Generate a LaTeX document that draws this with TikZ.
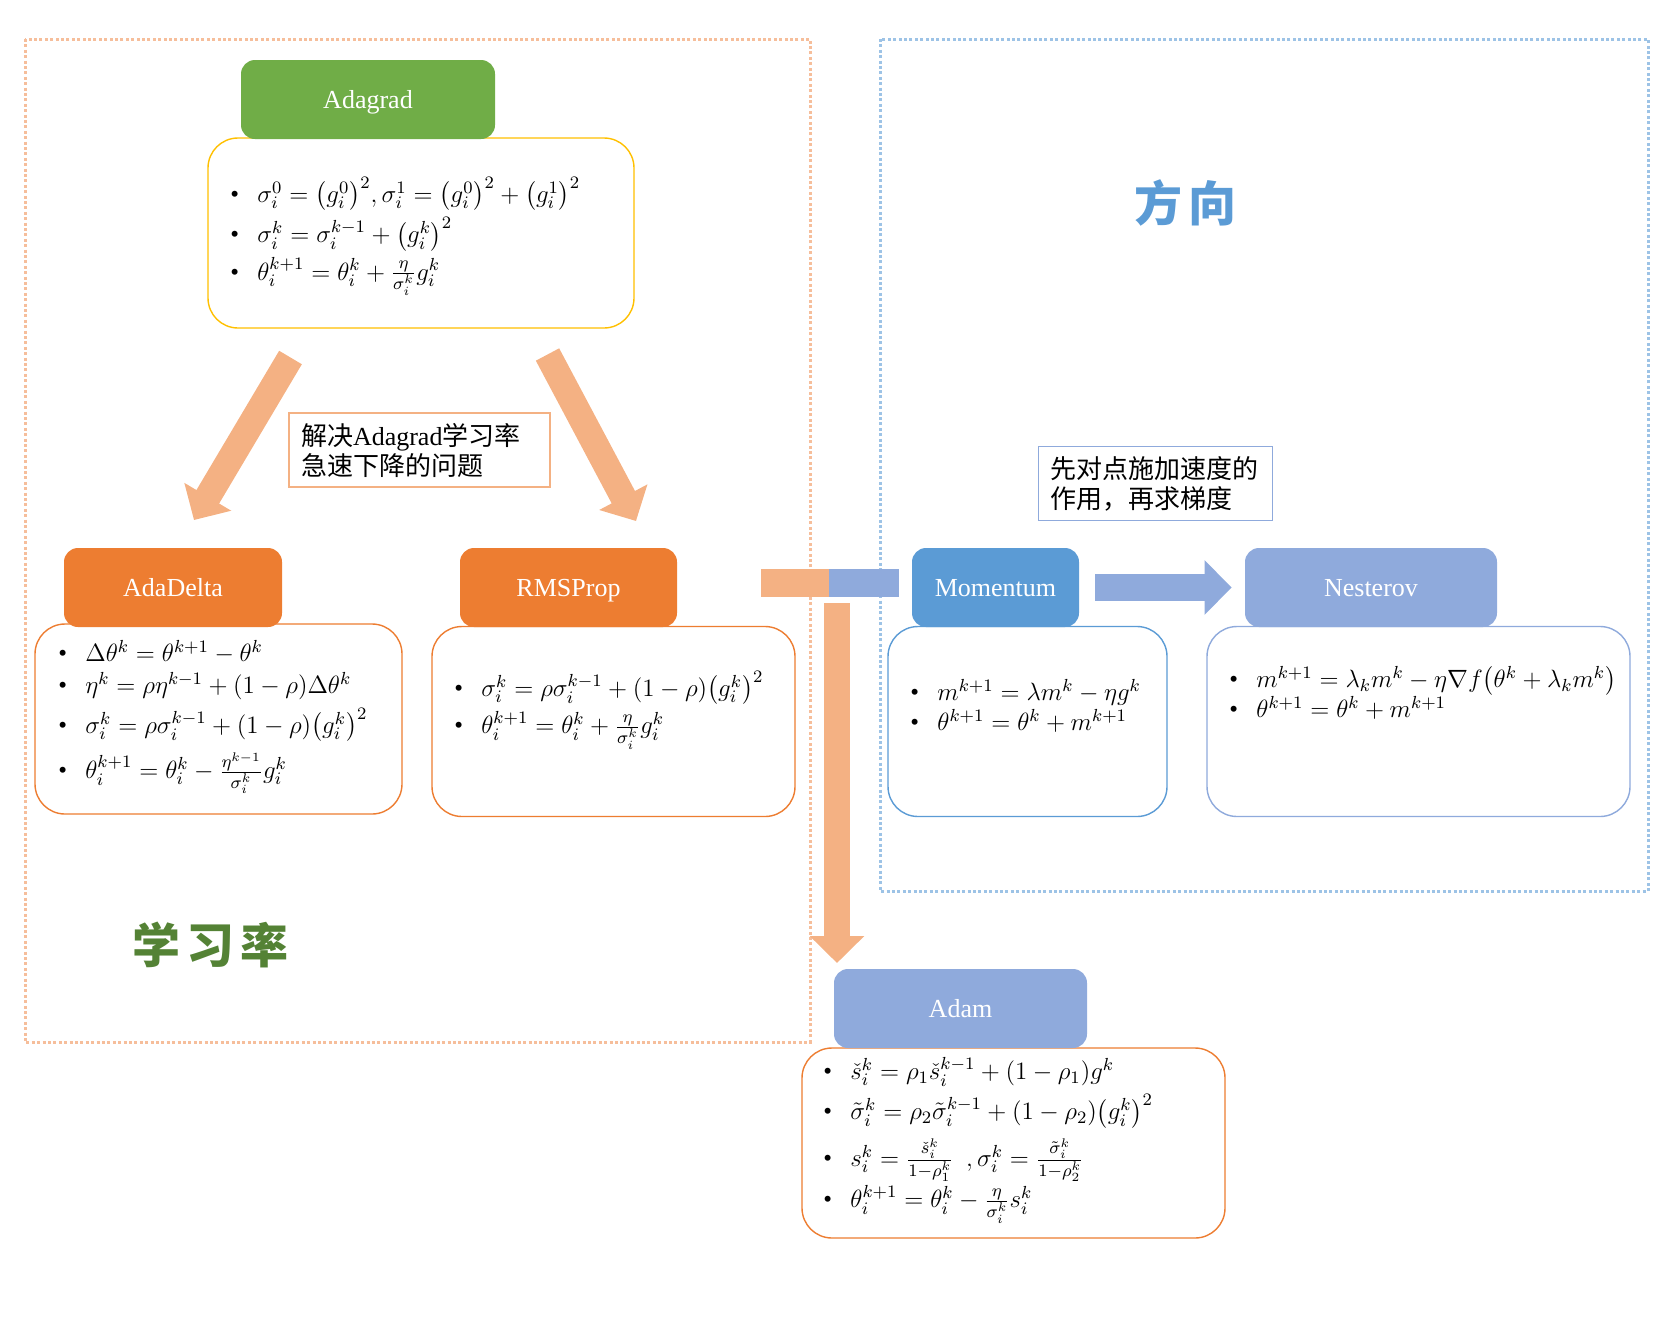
\documentclass[tikz,border=0pt]{standalone}
\usepackage{fix-cm}
\usepackage{fontspec}
\usepackage{amsmath}
\setmainfont{Liberation Serif}
\newfontfamily\cjk{Noto Sans CJK SC}
\definecolor{adagradgreen}{RGB}{112,173,71}
\definecolor{deltaorange}{RGB}{237,125,49}
\definecolor{momentumblue}{RGB}{91,155,213}
\definecolor{softblue}{RGB}{143,170,220}
\definecolor{softorange}{RGB}{244,177,131}
\definecolor{goldline}{RGB}{255,192,0}
\definecolor{paleorange}{RGB}{246,190,155}
\definecolor{paleblue}{RGB}{157,195,230}
\definecolor{titlegreen}{RGB}{84,130,53}
\usetikzlibrary{arrows.meta, positioning}

\newcommand{\itm}{\makebox[13.5pt][l]{\textbullet}}

\begin{document}
\begin{tikzpicture}[
                x=0.5pt, y=-0.5pt,
                header/.style={shape=rectangle, rounded corners=7pt, minimum height=39.5pt, inner sep=0pt, text height=8.6pt, text depth=0pt, text=white, font=\fontsize{13}{15}\selectfont},
                bodybox/.style={shape=rectangle, draw, line width=0.7pt, rounded corners=15pt, fill=white, minimum height=95pt, inner sep=0pt},
                formula/.style={anchor=west, align=left, inner sep=0pt, font=\fontsize{12.5}{15}\selectfont},
                notebox/.style={shape=rectangle, draw, line width=0.6pt, align=left, inner xsep=6pt, inner ysep=0pt, minimum height=37pt, font=\fontsize{13}{15}\selectfont},
                bigarrow/.style={line width=13.2pt, -{Triangle[width=26.5pt, length=13.5pt]}},
                dotframe/.style={line width=1.5pt, dash pattern=on 1.5pt off 1.2pt},
                bigtitle/.style={font=\fontsize{24}{26}\selectfont\cjk\bfseries}
            ]
                \useasboundingbox (0,0) rectangle (1680,1323);

                % Frames
                \draw[dotframe, paleorange] (25,39) rectangle (810,1042);
                \draw[dotframe, paleblue] (880,39) rectangle (1648,891);

                % Titles
                \node[bigtitle, text=titlegreen] (lrtitle) at (210,945) {学\hspace{3pt}习\hspace{3pt}率};
                \node[bigtitle, text=momentumblue] (dirtitle) at (1185,203) {方\hspace{3pt}向};

                % Adagrad
                \node[bodybox, draw=goldline, minimum width=213pt] (adagradbody) at (421,233) {};
                \node[header, fill=adagradgreen, minimum width=127pt] (adagrad) at (368,99.5) {Adagrad};
                \node[formula] (adagradtext) at (230,236) {\itm $\sigma_i^0=\bigl(g_i^0\bigr)^2,\sigma_i^1=\bigl(g_i^0\bigr)^2+\bigl(g_i^1\bigr)^2$\\[2pt]
                    \itm $\sigma_i^k=\sigma_i^{k-1}+\bigl(g_i^k\bigr)^2$\\[2pt]
                    \itm $\theta_i^{k+1}=\theta_i^k+\frac{\eta}{\sigma_i^k}g_i^k$};

                % Arrows out of Adagrad
                \coordinate (deltastart) at (290.5,357.5);
                \coordinate (deltatip) at (194,520);
                \coordinate (rmsstart) at (547.5,354.5);
                \coordinate (rmstip) at (636,521);
                \draw[bigarrow, softorange] (deltastart) -- (deltatip);
                \draw[bigarrow, softorange] (rmsstart) -- (rmstip);
                \node[notebox, draw=softorange, text width=118.5pt] (adagradnote) at (419.5,450) {{\cjk 解决}Adagrad{\cjk 学习率}\\{\cjk 急速下降的问题}};

                % AdaDelta
                \node[bodybox, draw=deltaorange, minimum width=183.5pt] (adadeltabody) at (218.5,719) {};
                \node[header, fill=deltaorange, minimum width=109pt] (adadelta) at (173,587.5) {AdaDelta};
                \node[formula] (adadeltatext) at (58,717) {\itm $\Delta\theta^k=\theta^{k+1}-\theta^k$\\[1pt]
                    \itm $\eta^k=\rho\eta^{k-1}+(1-\rho)\Delta\theta^k$\\[3pt]
                    \itm $\sigma_i^k=\rho\sigma_i^{k-1}+(1-\rho)\bigl(g_i^k\bigr)^2$\\[4pt]
                    \itm $\theta_i^{k+1}=\theta_i^k-\frac{\eta^{k-1}}{\sigma_i^k}g_i^k$};

                % RMSProp
                \node[bodybox, draw=deltaorange, minimum width=181.5pt] (rmspropbody) at (613.5,721.5) {};
                \node[header, fill=deltaorange, minimum width=108.5pt] (rmsprop) at (568.5,587.5) {RMSProp};
                \node[formula] (rmsproptext) at (454,710) {\itm $\sigma_i^k=\rho\sigma_i^{k-1}+(1-\rho)\bigl(g_i^k\bigr)^2$\\[2pt]
                    \itm $\theta_i^{k+1}=\theta_i^k+\frac{\eta}{\sigma_i^k}g_i^k$};

                % Momentum
                \node[bodybox, draw=momentumblue, minimum width=139.5pt] (momentumbody) at (1027.5,721.5) {};
                \node[header, fill=momentumblue, minimum width=83.5pt] (momentum) at (995.5,587.5) {Momentum};
                \node[formula] (momentumtext) at (910,706) {\itm $m^{k+1}=\lambda m^k-\eta g^k$\\
                    \itm $\theta^{k+1}=\theta^k+m^{k+1}$};

                % Nesterov
                \node[bodybox, draw=softblue, minimum width=211.5pt] (nesterovbody) at (1418.5,721.5) {};
                \node[header, fill=softblue, minimum width=126pt] (nesterov) at (1371,587.5) {Nesterov};
                \node[formula] (nesterovtext) at (1229,693) {\itm $m^{k+1}=\lambda_k m^k-\eta\nabla f\bigl(\theta^k+\lambda_k m^k\bigr)$\\
                    \itm $\theta^{k+1}=\theta^k+m^{k+1}$};
                \draw[bigarrow, softblue] ([xshift=8pt]momentum.east) -- ([xshift=-6.5pt]nesterov.west);
                \node[notebox, draw=softblue, text width=105pt] (nesterovnote) at (1155.5,483.5) {\cjk 先对点施加速度的\\作用，再求梯度};

                % Merge into Adam
                \fill[softorange] (761,569) rectangle (829,597);
                \fill[softblue] (829,569) rectangle (899,597);
                \coordinate (mergestart) at (837,603);
                \coordinate (adamtip) at (837,963);
                \draw[bigarrow, softorange] (mergestart) -- (adamtip);

                % Adam
                \node[bodybox, draw=deltaorange, minimum width=211.5pt] (adambody) at (1013.5,1143) {};
                \node[header, fill=softblue, minimum width=126.5pt] (adam) at (960.5,1008.5) {Adam};
                \node[formula] (adamtext) at (823,1140) {\itm $\check{s}_i^k=\rho_1\check{s}_i^{k-1}+(1-\rho_1)g^k$\\[3pt]
                    \itm $\tilde{\sigma}_i^k=\rho_2\tilde{\sigma}_i^{k-1}+(1-\rho_2)\bigl(g_i^k\bigr)^2$\\[4pt]
                    \itm $s_i^k=\frac{\check{s}_i^k}{1-\rho_1^k}\ \ ,\sigma_i^k=\frac{\tilde{\sigma}_i^k}{1-\rho_2^k}$\\[1pt]
                    \itm $\theta_i^{k+1}=\theta_i^k-\frac{\eta}{\sigma_i^k}s_i^k$};
            \end{tikzpicture}
\end{document}
